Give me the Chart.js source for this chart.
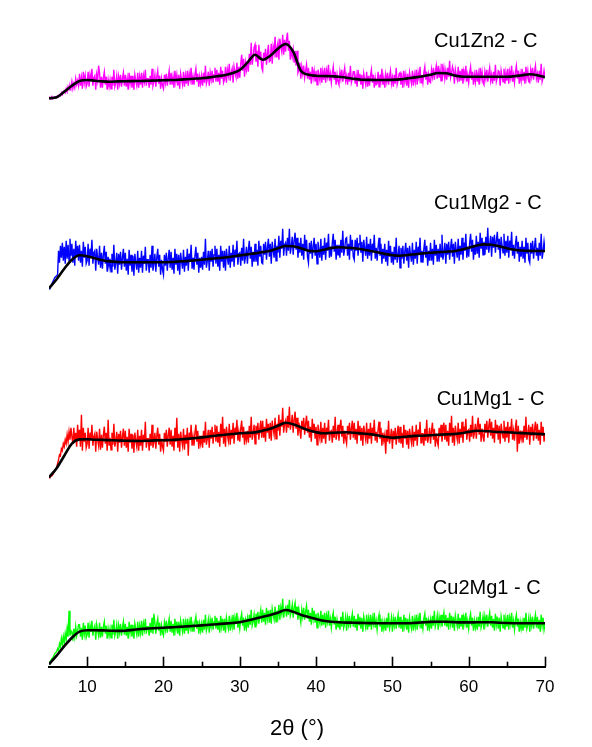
<!DOCTYPE html>
<html><head><meta charset="utf-8">
<script src="https://cdn.jsdelivr.net/npm/chart.js@4.4.1/dist/chart.umd.min.js"></script>
<style>html,body{margin:0;padding:0;background:#fff;}canvas{display:block;}</style>
</head><body>
<canvas id="c" width="592" height="747"></canvas>
<script>
// ---- data (intensity in arbitrary units) ----
const sampleNames = ['Cu1Zn2 - C', 'Cu1Mg2 - C', 'Cu1Mg1 - C', 'Cu2Mg1 - C'];
const xTickLabels = ['10', '20', '30', '40', '50', '60', '70'];
const scanStart = 5, scanStep = 0.125;     // raw scans sampled every 0.125 deg
const fitStart = 5, fitStep = 1;           // smoothed curves read every 1 deg
const stackOffsets = [566, 376, 187, 0];   // vertical stacking of the patterns

const cu1zn2Counts = [
2,3,2,4,2,3,4,3, 3,5,4,6,5,8,6,9, 10,8,12,9,14,11,15,12, 19,12,17,13,22,16,20,15, 27,15,23,12,29,18,25,14,
17,29,14,26,20,32,15,23, 25,11,26,20,35,28,13,24, 13,23,29,16,24,11,21,14, 21,12,24,15,31,14,18,25, 11,24,17,26,14,22,28,15,
26,14,22,11,28,17,25,13, 25,11,26,20,15,28,13,24, 16,28,13,25,19,31,15,22, 22,13,25,16,32,15,19,26, 14,24,30,17,25,12,22,15,
12,26,18,27,15,23,30,16, 28,16,24,13,30,19,26,15, 26,12,27,21,16,29,14,25, 17,30,15,27,21,33,16,24, 16,26,32,19,27,14,24,17,
25,15,28,18,35,17,21,29, 15,28,21,30,18,26,33,19, 31,19,28,16,34,22,30,18, 21,34,18,31,25,37,20,28, 32,18,34,28,24,38,22,34,
23,37,46,30,42,24,38,31, 40,29,47,36,58,36,43,53, 56,39,50,34,56,41,49,33, 30,48,40,52,36,47,56,39, 40,57,37,54,48,64,44,53,
58,41,62,54,49,66,46,61, 49,61,68,50,60,41,53,44, 51,38,50,35,50,28,31,38, 22,34,27,35,23,30,36,22, 33,21,29,17,34,23,30,19,
30,16,31,25,20,33,18,29, 21,33,18,30,24,36,20,27, 18,28,34,21,29,16,26,19, 16,29,22,31,19,27,33,20, 25,16,28,19,35,18,22,29,
29,17,25,14,31,20,27,16, 26,12,27,21,16,29,14,25, 15,25,31,18,26,13,23,16, 17,29,14,26,20,32,16,23, 13,26,19,28,16,24,30,17,
23,14,26,17,33,16,20,27, 28,16,24,13,30,19,26,15, 27,13,28,22,17,30,15,26, 19,31,16,28,22,34,18,25, 18,28,34,21,29,16,26,19,
18,31,24,33,21,29,35,22, 35,23,31,20,37,26,33,22, 30,21,33,24,40,23,27,34, 30,17,31,25,21,34,19,30, 20,32,17,29,23,35,19,26,
18,28,34,21,29,16,26,19, 31,19,27,16,33,22,29,18, 16,29,22,31,19,27,33,20, 26,17,29,20,36,19,23,30, 29,15,30,24,19,32,17,28,
20,32,17,29,23,35,19,26, 18,29,35,22,30,17,27,20, 32,20,29,17,34,23,30,19, 18,31,24,33,21,29,35,22, 27,18,30,21,37,19,23,30,
23];
const cu1mg2Counts = [
2,3,5,7,9,11,13,14, 15,16,40,28,45,33,48,30, 44,27,50,32,46,30,52,35, 47,28,42,25,50,34,45,30, 46,28,40,24,49,33,44,27,
30,47,25,42,34,51,27,38, 40,20,42,33,26,45,23,38, 22,36,45,27,39,19,34,24, 32,19,37,24,46,21,28,38, 17,37,26,39,21,33,42,24,
38,20,32,16,41,25,36,19, 35,15,37,28,21,40,18,33, 23,40,18,35,27,44,20,31, 31,18,36,23,45,20,27,37, 19,33,42,24,36,16,31,21,
16,36,25,38,20,32,41,23, 39,21,33,17,42,26,37,20, 36,16,38,29,22,41,19,34, 25,42,20,37,29,46,22,33, 21,35,44,26,38,18,33,23,
34,21,39,26,52,23,30,40, 20,40,29,42,24,36,45,27, 42,24,36,20,45,29,40,23, 40,20,42,33,26,45,23,38, 29,46,24,41,33,50,26,37,
38,25,43,30,52,27,34,44, 27,41,50,32,44,24,39,29, 47,29,41,25,50,34,45,28, 27,47,36,49,31,43,52,34, 47,27,49,40,33,52,30,45,
38,55,33,50,42,62,35,46, 48,35,53,40,62,37,44,54, 36,50,58,41,53,33,48,38, 53,35,47,31,56,40,51,34, 28,48,37,50,32,44,53,35,
47,27,49,40,33,52,30,45, 36,53,31,48,40,57,33,44, 34,48,57,39,51,31,46,36, 46,33,51,38,60,35,42,52, 53,35,47,31,56,40,51,34,
31,51,40,53,35,47,56,38, 49,29,51,42,35,54,32,47, 35,52,30,47,39,56,32,43, 30,44,53,35,47,27,42,32, 47,29,41,25,50,34,45,28,
39,26,44,31,53,28,35,45, 23,43,32,45,27,39,48,30, 43,23,45,36,29,48,26,41, 32,49,27,44,36,53,29,40, 28,42,51,33,45,25,40,30,
48,30,42,26,51,35,46,29, 42,29,47,34,56,31,38,48, 27,47,36,49,31,43,52,34, 47,27,49,40,33,52,30,45, 36,53,31,48,40,57,33,44,
34,48,57,39,51,31,46,36, 55,37,49,33,58,42,53,36, 49,36,54,41,63,38,45,55, 34,54,43,56,38,50,59,41, 52,32,54,45,38,57,35,50,
38,55,33,50,42,59,35,46, 32,46,55,37,49,29,44,34, 50,32,44,28,53,37,48,31, 28,48,37,50,32,44,53,35, 43,30,48,35,57,32,39,49,
40];
const cu1mg1Counts = [
2,3,4,4,5,7,9,10, 12,16,20,25,24,31,29,36, 33,40,36,45,38,48,40,52, 43,36,52,38,47,33,55,39, 50,33,65,29,52,38,47,32,
36,52,31,47,40,55,34,43, 46,28,48,40,34,51,30,45, 32,45,53,36,47,29,60,34, 42,30,47,35,56,33,39,48, 28,46,37,49,32,43,51,34,
49,32,43,28,51,37,46,31, 45,27,47,39,33,50,29,44, 34,50,29,45,38,58,32,41, 41,29,46,34,55,32,38,47, 31,44,52,35,46,28,41,33,
29,47,38,50,33,44,52,35, 50,33,44,29,52,38,62,32, 46,28,48,40,34,51,30,45, 36,52,24,47,40,55,34,43, 34,47,55,38,49,31,44,36,
44,32,49,37,58,35,41,50, 32,50,41,53,36,47,55,38, 54,37,48,33,56,42,63,36, 51,33,53,45,39,56,35,50, 41,57,36,52,45,60,39,48,
38,51,59,42,53,35,48,40, 49,37,54,42,63,40,46,55, 36,54,45,57,40,51,59,42, 59,42,53,38,61,47,56,41, 57,39,59,51,45,62,41,56,
49,65,44,60,53,72,47,56, 59,47,64,52,73,50,56,65, 47,60,68,51,62,44,57,49, 41,59,50,62,45,56,64,47, 59,42,53,38,61,47,56,41,
53,35,55,47,41,58,37,52, 41,57,36,52,45,60,39,48, 49,37,54,42,63,40,46,55, 39,52,60,43,54,36,49,41, 36,54,45,57,40,51,59,42,
57,40,51,36,59,45,54,39, 52,34,54,46,40,57,36,51, 41,57,36,52,45,60,39,48, 37,50,58,41,52,34,47,39, 45,26,50,38,59,36,42,51,
31,49,40,52,35,46,54,37, 53,36,47,32,55,41,50,35, 49,31,51,43,37,54,33,48, 39,55,34,50,43,58,37,46, 46,34,51,39,60,37,43,52,
36,49,57,40,51,33,46,38, 34,52,43,55,38,49,57,40, 55,38,49,34,57,43,64,37, 52,34,54,46,40,57,36,51, 42,58,37,53,46,61,40,49,
50,38,55,43,64,41,47,56, 41,54,62,45,56,38,51,43, 38,56,47,59,42,53,61,44, 58,41,52,37,60,46,55,40, 54,36,56,48,42,59,38,53,
42,58,37,53,46,61,40,49, 39,52,60,28,54,36,49,41, 49,37,54,42,63,40,46,55, 35,53,44,56,39,50,58,41, 56,39,50,35,58,44,53,38,
45];
const cu2mg1Counts = [
3,5,6,8,9,11,13,14, 15,18,16,23,20,28,22,30, 24,33,27,38,30,56,31,36, 35,26,38,30,40,31,36,42, 42,30,39,27,44,33,41,29,
32,44,29,41,35,46,31,38, 41,27,42,36,31,44,29,40, 30,40,45,33,41,28,38,31, 38,29,42,32,47,31,35,42, 28,41,34,43,31,39,45,32,
43,31,40,28,45,34,42,30, 42,28,43,37,32,45,30,41, 34,46,31,43,37,48,33,40, 40,31,44,34,49,33,53,44, 33,43,48,36,44,31,41,34,
31,44,37,46,34,42,48,35, 46,34,43,31,48,37,45,33, 45,31,46,40,35,48,33,44, 36,48,33,45,39,50,35,42, 35,45,50,38,46,33,43,36,
43,34,47,37,52,36,40,47, 34,47,40,49,37,45,51,38, 49,37,46,34,51,40,48,36, 48,34,49,43,38,51,36,47, 40,52,37,49,43,54,39,46,
38,48,53,41,49,36,46,39, 48,39,52,42,57,41,45,52, 40,53,46,55,43,51,57,44, 57,45,54,42,59,48,56,44, 57,43,58,52,47,60,45,56,
50,62,47,59,53,68,49,56, 59,50,62,52,67,51,55,62, 49,59,64,52,60,47,57,50, 44,57,50,59,47,55,61,48, 57,45,54,42,59,48,56,44,
53,39,54,48,43,56,41,52, 42,54,39,51,45,56,41,48, 39,49,54,42,50,37,47,40, 46,37,50,40,55,39,43,50, 36,49,42,51,39,47,53,40,
51,39,48,36,53,42,50,38, 49,35,50,44,39,52,37,48, 40,52,37,49,43,54,39,46, 37,47,52,40,48,35,45,38, 45,36,49,39,54,38,42,49,
35,48,41,50,38,46,52,39, 50,38,47,35,52,41,49,37, 48,34,49,43,38,51,36,47, 40,52,37,49,43,54,39,46, 38,48,53,41,49,36,46,39,
47,38,51,41,56,40,44,51, 37,50,43,52,40,48,54,41, 52,40,49,37,54,43,51,39, 50,36,51,45,40,53,38,49, 40,52,37,49,43,54,39,46,
38,48,53,41,49,36,46,39, 46,37,50,40,55,39,43,50, 37,50,43,52,40,48,54,41, 51,39,48,36,53,42,50,38, 49,35,50,44,39,52,37,48,
40,52,37,49,43,54,39,46, 37,47,52,40,48,35,45,38, 45,36,49,39,54,38,42,49, 35,48,41,50,38,46,52,39, 50,38,47,35,52,41,49,37,
43];

const cu1zn2Fit = [2.4,3.4,9,15,19.7,20.7,20,19.3,19,19.3,19.5,19.6,19.7,20,20.2,20.5,20.7,21,21.5,22,22.5,23.3,24.5,25.5,27.5,30.7,38,46,41,45,52,56.7,49,30,26,25,24.7,24.4,24,23,21.8,21,20.8,20.7,20.7,20.8,21.3,22.3,23.3,24.5,26,27.7,27.5,25.5,24.2,24,24,24,24,24,24,24.5,25.5,26.4,25.5,23.4];
const cu1mg2Fit = [2.4,11.5,22,31,35.4,34.5,32.5,30.5,29.3,28.7,28.4,28.4,28.4,28.4,28.4,28.5,28.7,29.2,29.6,30.2,31,31.8,32.5,33.2,34.2,35.3,36.3,37.3,38.6,40,42.5,44.7,44.5,42.5,40,39.5,41,42.8,43.4,43,42.5,41.5,40,38.5,36.8,35.5,35,35.6,36.5,37.3,38,38.5,39,39.5,41,43,45,46.3,46,44.5,42.5,41,40.2,39.8,39.7,39.7];
const cu1mg1Fit = [2.4,11.5,24,36,40.3,40.5,40,39.8,39.5,39.2,39,38.8,38.7,39,39.3,39.5,39.7,40.2,40.8,41.5,42.3,43.2,44.2,45,45.7,46.4,46.8,47.3,49,51,54,57,55.5,52.5,49.5,47.5,46.4,46.8,47.2,47.4,47,46.2,45.6,44.5,43,42,42.5,43.2,43.8,44,44.4,44.9,45.3,45.6,46.5,47.8,49,48.7,48.2,47.7,47.4,47,46.6,46.2,45.8,45.5];
const cu2mg1Fit = [2.4,11,20.5,29,35,36.5,36.5,36.3,36,35.8,36,36.8,37.7,38.2,38.6,39,39.3,39.8,40.3,40.8,41.3,41.9,42.5,43.1,43.7,44.5,46.2,48,50,51.8,54,56.7,55,52,49.7,47.7,46,45,44.4,44.1,44,43.8,43.6,43.5,43.4,43.4,43.4,43.4,43.8,44.3,44.8,45,45,44.6,44.3,44.3,44.4,44.5,44.4,44,43.7,43.5,43.4,43.4,43.4,43.4];

// ---- build datasets ----
const rawSets = [cu1zn2Counts, cu1mg2Counts, cu1mg1Counts, cu2mg1Counts];
const fitSets = [cu1zn2Fit, cu1mg2Fit, cu1mg1Fit, cu2mg1Fit];
const traceColors = ['#ff00ff', '#0000ff', '#ff0000', '#00ff00'];
const labelAnchors = {theta: [55.45, 55.45, 55.8, 55.3], level: [625, 463, 267, 78]};
const FONT = '"Liberation Sans", Arial, Helvetica, sans-serif';

const datasets = [];
fitSets.forEach((arr, s) => {
  datasets.push({
    label: sampleNames[s] + ' fit',
    data: arr.map((v, i) => ({x: fitStart + i * fitStep, y: v + stackOffsets[s]})),
    borderColor: '#000', borderWidth: 2.6, pointRadius: 0,
    cubicInterpolationMode: 'monotone', order: 0
  });
});
rawSets.forEach((arr, s) => {
  datasets.push({
    label: sampleNames[s],
    data: arr.map((v, i) => ({x: scanStart + i * scanStep, y: v + stackOffsets[s]})),
    borderColor: traceColors[s], borderWidth: 1.4, pointRadius: 0, tension: 0, order: 1
  });
});

const sampleLabelPlugin = {
  id: 'sampleLabels',
  afterDraw(chart) {
    const {ctx, scales: {x, y}} = chart;
    ctx.save();
    ctx.font = '20px ' + FONT;
    ctx.fillStyle = '#000';
    ctx.textAlign = 'left';
    ctx.textBaseline = 'middle';
    sampleNames.forEach((n, i) => {
      ctx.fillText(n, x.getPixelForValue(labelAnchors.theta[i]), y.getPixelForValue(labelAnchors.level[i]));
    });
    // inward tick marks
    ctx.strokeStyle = '#000';
    ctx.lineWidth = 1.6;
    const yb = chart.chartArea.bottom;
    for (let v = 10; v <= 70; v += 5) {
      const px = Math.round(x.getPixelForValue(v)) + 0.5;
      const len = v % 10 === 0 ? 10 : 5;
      ctx.beginPath(); ctx.moveTo(px, yb); ctx.lineTo(px, yb - len); ctx.stroke();
    }
    ctx.restore();
  }
};

new Chart(document.getElementById('c'), {
  type: 'line',
  data: {datasets},
  options: {
    responsive: false, animation: false, devicePixelRatio: 1,
    layout: {padding: {left: 49, right: 47, top: 10, bottom: 0}},
    plugins: {legend: {display: false}, tooltip: {enabled: false}},
    scales: {
      x: {
        type: 'linear', min: 5, max: 70,
        afterFit(scale) { scale.height = 80.3; },
        grid: {display: false, drawTicks: false},
        border: {display: true, color: '#000', width: 2},
        ticks: {
          stepSize: 10, autoSkip: false, maxRotation: 0, padding: 10,
          color: '#000', font: {family: FONT, size: 17},
          callback: (v) => xTickLabels.includes(String(v)) ? String(v) : ''
        },
        title: {display: true, text: '2θ (°)', color: '#000', font: {family: FONT, size: 22}, padding: {top: 0, bottom: 5}}
      },
      y: {display: false, min: 0, max: 656.7}
    }
  },
  plugins: [sampleLabelPlugin]
});
</script>
</body></html>
